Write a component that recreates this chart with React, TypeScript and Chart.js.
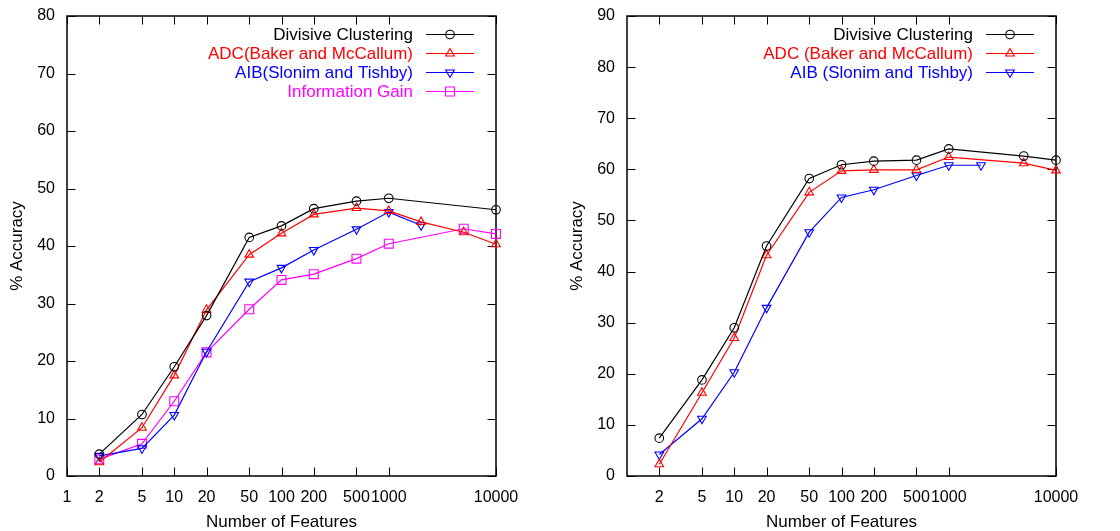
import React, { useEffect, useRef } from 'react';
import { Chart, registerables } from 'chart.js';
import { drawPoint } from 'chart.js/helpers';

Chart.register(...registerables);

// ---------- data: left panel ----------
const leftXTicks = [1, 2, 5, 10, 20, 50, 100, 200, 500, 1000, 10000];
const leftYTicks = [0, 10, 20, 30, 40, 50, 60, 70, 80];

const leftDivX = [2, 5, 10, 20, 50, 100, 200, 500, 1000, 10000];
const leftDivY = [3.8, 10.7, 19.0, 27.9, 41.5, 43.5, 46.5, 47.8, 48.3, 46.3];
const leftAdcX = [2, 5, 10, 20, 50, 100, 200, 500, 1000, 2000, 5000, 10000];
const leftAdcY = [2.4, 8.4, 17.5, 28.9, 38.5, 42.2, 45.5, 46.6, 46.1, 44.2, 42.4, 40.3];
const leftAibX = [2, 5, 10, 20, 50, 100, 200, 500, 1000, 2000];
const leftAibY = [3.5, 4.8, 10.6, 21.6, 33.8, 36.2, 39.3, 42.9, 45.9, 43.6];
const leftIgX = [2, 5, 10, 20, 50, 100, 200, 500, 1000, 5000, 10000];
const leftIgY = [2.9, 5.6, 13.0, 21.5, 29.0, 34.1, 35.1, 37.8, 40.4, 43.0, 42.1];

// ---------- data: right panel ----------
const rightXTicks = [2, 5, 10, 20, 50, 100, 200, 500, 1000, 10000];
const rightYTicks = [0, 10, 20, 30, 40, 50, 60, 70, 80, 90];

const rightDivX = [2, 5, 10, 20, 50, 100, 200, 500, 1000, 5000, 10000];
const rightDivY = [7.4, 18.8, 29.0, 45.0, 58.2, 60.9, 61.6, 61.8, 64.0, 62.6, 61.8];
const rightAdcX = [2, 5, 10, 20, 50, 100, 200, 500, 1000, 5000, 10000];
const rightAdcY = [2.3, 16.3, 27.0, 43.2, 55.5, 59.7, 59.9, 59.9, 62.4, 61.2, 59.8];
const rightAibX = [2, 5, 10, 20, 50, 100, 200, 500, 1000, 2000];
const rightAibY = [4.2, 11.2, 20.3, 32.9, 47.7, 54.5, 56.0, 58.8, 60.8, 60.8];

const FONT = 'Liberation Sans, Arial, Helvetica, sans-serif';

const mk = (xs: number[], ys: number[]) => xs.map((x, i) => ({ x, y: ys[i] }));

type SeriesDef = {
  label: string;
  color: string;
  style: string;
  rotation: number;
  radius: number;
  xs: number[];
  ys: number[];
};

const leftSeries: SeriesDef[] = [
  { label: 'Divisive Clustering', color: '#000000', style: 'circle', rotation: 0, radius: 4.3, xs: leftDivX, ys: leftDivY },
  { label: 'ADC(Baker and McCallum)', color: '#ff0000', style: 'triangle', rotation: 0, radius: 5, xs: leftAdcX, ys: leftAdcY },
  { label: 'AIB(Slonim and Tishby)', color: '#0000ff', style: 'triangle', rotation: 180, radius: 5, xs: leftAibX, ys: leftAibY },
  { label: 'Information Gain', color: '#ff00ff', style: 'rect', rotation: 0, radius: 6.3, xs: leftIgX, ys: leftIgY },
];

const rightSeries: SeriesDef[] = [
  { label: 'Divisive Clustering', color: '#000000', style: 'circle', rotation: 0, radius: 4.3, xs: rightDivX, ys: rightDivY },
  { label: 'ADC (Baker and McCallum)', color: '#ff0000', style: 'triangle', rotation: 0, radius: 5, xs: rightAdcX, ys: rightAdcY },
  { label: 'AIB (Slonim and Tishby)', color: '#0000ff', style: 'triangle', rotation: 180, radius: 5, xs: rightAibX, ys: rightAibY },
];

const framePlugin = {
  id: 'gnuFrame',
  beforeDatasetsDraw(chart: any) {
    const { ctx, chartArea } = chart;
    const { left, right, top, bottom } = chartArea;
    const xs = chart.scales.x;
    const ys = chart.scales.y;
    const tl = 8.5;
    ctx.save();
    ctx.strokeStyle = '#000';
    ctx.lineWidth = 1;
    ctx.beginPath();
    xs.ticks.forEach((t: any) => {
      const px = Math.round(xs.getPixelForValue(t.value)) + 0.5;
      ctx.moveTo(px, bottom);
      ctx.lineTo(px, bottom - tl);
      ctx.moveTo(px, top);
      ctx.lineTo(px, top + tl);
    });
    ys.ticks.forEach((t: any) => {
      const py = Math.round(ys.getPixelForValue(t.value)) + 0.5;
      ctx.moveTo(left, py);
      ctx.lineTo(left + tl, py);
      ctx.moveTo(right, py);
      ctx.lineTo(right - tl, py);
    });
    ctx.stroke();
    ctx.lineWidth = 1.5;
    ctx.strokeRect(left, top, right - left, bottom - top);
    ctx.restore();
  },
};

const legendPlugin = {
  id: 'gnuLegend',
  afterDraw(chart: any) {
    const { ctx, chartArea } = chart;
    const right = chartArea.right;
    const top = chartArea.top;
    ctx.save();
    ctx.font = `17px ${FONT}`;
    ctx.textAlign = 'right';
    ctx.textBaseline = 'middle';
    chart.data.datasets.forEach((ds: any, i: number) => {
      const y = top + 18 + i * 19;
      ctx.fillStyle = ds.borderColor;
      ctx.fillText(ds.label, right - 83, y + 1);
      ctx.strokeStyle = ds.borderColor;
      ctx.lineWidth = 1.2;
      ctx.beginPath();
      ctx.moveTo(right - 70, y + 0.5);
      ctx.lineTo(right - 22, y + 0.5);
      ctx.stroke();
      ctx.lineWidth = 1.1;
      ctx.fillStyle = 'rgba(0,0,0,0)';
      drawPoint(ctx, { pointStyle: ds.pointStyle, radius: ds.pointRadius, rotation: ds.pointRotation, borderWidth: 1.1 } as any, right - 46, y + 0.5);
    });
    ctx.restore();
  },
};

function buildConfig(series: SeriesDef[], xTicks: number[], yTicks: number[], yMax: number): any {
  return {
    type: 'line',
    data: {
      datasets: series.map((s) => ({
        label: s.label,
        data: mk(s.xs, s.ys),
        borderColor: s.color,
        backgroundColor: 'rgba(0,0,0,0)',
        borderWidth: 1.2,
        pointStyle: s.style,
        pointRotation: s.rotation,
        pointRadius: s.radius,
        pointBorderWidth: 1.1,
        pointBorderColor: s.color,
        pointBackgroundColor: 'rgba(0,0,0,0)',
        tension: 0,
        clip: false,
      })),
    },
    options: {
      responsive: false,
      animation: false,
      devicePixelRatio: 1,
      events: [],
      layout: { padding: { top: 16, right: 64, left: 0, bottom: 0 } },
      plugins: { legend: { display: false }, tooltip: { enabled: false } },
      scales: {
        x: {
          type: 'logarithmic',
          min: 1,
          max: 10000,
          afterBuildTicks: (s: any) => {
            s.ticks = xTicks.map((v) => ({ value: v }));
          },
          afterFit: (s: any) => {
            s.height = 55;
          },
          grid: { display: false, drawTicks: false },
          border: { display: false },
          ticks: {
            autoSkip: false,
            maxRotation: 0,
            minRotation: 0,
            padding: 12,
            color: '#000',
            font: { family: FONT, size: 16 },
            callback: (v: any) => String(v),
          },
          title: {
            display: true,
            text: 'Number of Features',
            color: '#000',
            font: { family: FONT, size: 17, lineHeight: 1 },
            padding: { top: 0, bottom: 0 },
          },
        },
        y: {
          type: 'linear',
          min: 0,
          max: yMax,
          afterBuildTicks: (s: any) => {
            s.ticks = yTicks.map((v) => ({ value: v }));
          },
          afterFit: (s: any) => {
            s.width = 67;
            s.paddingTop = 0;
            s.paddingBottom = 0;
          },
          grid: { display: false, drawTicks: false },
          border: { display: false },
          ticks: {
            padding: 12,
            color: '#000',
            font: { family: FONT, size: 16 },
            callback: (v: any) => String(v),
          },
          title: {
            display: true,
            text: '% Accuracy',
            color: '#000',
            font: { family: FONT, size: 17, lineHeight: 1 },
            padding: { top: 9, bottom: 0 },
          },
        },
      },
    },
    plugins: [framePlugin, legendPlugin],
  };
}

function Panel({ series, xTicks, yTicks, yMax, left }: { series: SeriesDef[]; xTicks: number[]; yTicks: number[]; yMax: number; left: number }) {
  const ref = useRef<HTMLCanvasElement | null>(null);
  useEffect(() => {
    if (!ref.current) return;
    const chart = new Chart(ref.current, buildConfig(series, xTicks, yTicks, yMax));
    return () => chart.destroy();
  }, []);
  return (
    <canvas
      ref={ref}
      width={560}
      height={531}
      style={{ position: 'absolute', left, top: 0, width: 560, height: 531 }}
    />
  );
}

export default function App() {
  return (
    <div style={{ position: 'absolute', left: 0, top: 0, width: 1120, height: 531, background: '#fff' }}>
      <Panel series={leftSeries} xTicks={leftXTicks} yTicks={leftYTicks} yMax={80} left={0} />
      <Panel series={rightSeries} xTicks={rightXTicks} yTicks={rightYTicks} yMax={90} left={560} />
    </div>
  );
}
